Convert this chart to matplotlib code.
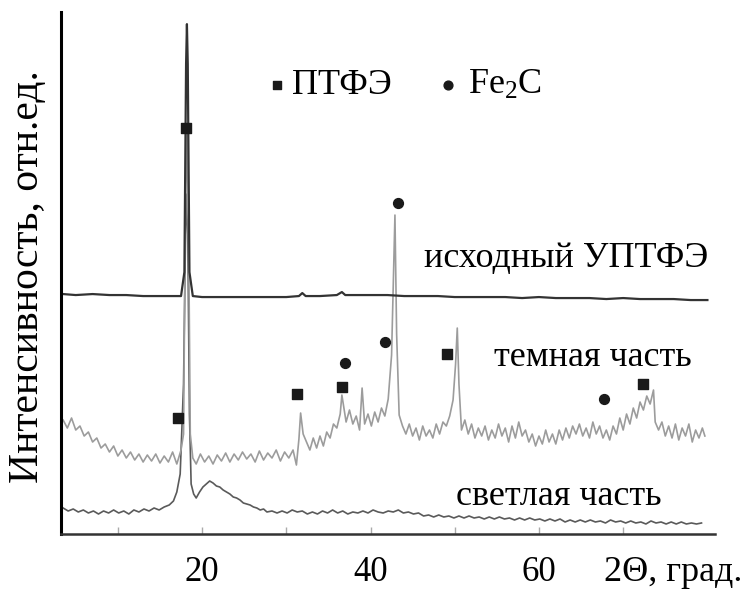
import matplotlib
matplotlib.use('Agg')
import matplotlib.pyplot as plt

plt.rcParams['font.family'] = ['Liberation Serif', 'DejaVu Serif']
plt.rcParams['mathtext.default'] = 'regular'

# --- data: 2Theta (deg) and intensity (arb. units) ---
x_initial = [3.5, 5, 7, 9, 11, 13, 15, 16.5, 17.5, 17.9, 18.1, 18.2, 18.3, 18.5, 18.9,
             20, 22, 24, 26, 28, 30, 31.5, 31.9, 32.3, 34, 36, 36.6, 37.0, 38, 40, 42,
             44, 46, 48, 50, 52, 54, 56, 58, 60, 62, 64, 66, 68, 70, 72, 74, 76, 78, 80]
y_initial = [240, 239, 240, 239, 239, 238, 238, 238, 238, 262, 470, 510, 470, 262, 238,
             237, 237, 237, 237, 237, 237, 238, 241, 238, 238, 239, 242, 239, 239, 239, 239,
             238, 238, 238, 237, 237, 237, 237, 236, 237, 236, 236, 236, 235, 236, 235, 235, 235, 234, 234]

x_dark = [3.5, 4.0, 4.5, 5.0, 5.5, 6.0, 6.5, 7.0, 7.5, 8.0, 8.5, 9.0, 9.5, 10.0, 10.5,
          11.0, 11.5, 12.0, 12.5, 13.0, 13.5, 14.0, 14.5, 15.0, 15.5, 16.0, 16.5, 17.0,
          17.5, 17.8, 18.0, 18.2, 18.4, 18.6, 18.9, 19.3, 19.8, 20.3, 20.8, 21.3, 21.8,
          22.3, 22.8, 23.3, 23.8, 24.3, 24.8, 25.3, 25.8, 26.3, 26.8, 27.3, 27.8, 28.3,
          28.8, 29.3, 29.8, 30.3, 30.8, 31.2, 31.5, 31.7, 32.0, 32.4, 32.8, 33.2, 33.6,
          34.0, 34.4, 34.8, 35.2, 35.6, 36.0, 36.4, 36.6, 37.1, 37.5, 37.9, 38.3, 38.7,
          39.0, 39.3, 39.7, 40.1, 40.5, 40.9, 41.3, 41.7, 42.1, 42.5, 42.9, 43.1, 43.4,
          43.8, 44.2, 44.6, 45.0, 45.4, 45.8, 46.2, 46.6, 47.0, 47.4, 47.8, 48.2, 48.6,
          49.0, 49.4, 49.8, 50.1, 50.3, 50.5, 50.8, 51.2, 51.6, 52.0, 52.4, 52.8, 53.2,
          53.6, 54.0, 54.4, 54.8, 55.2, 55.6, 56.0, 56.4, 56.8, 57.2, 57.6, 58.0, 58.4,
          58.8, 59.2, 59.6, 60.0, 60.4, 60.8, 61.2, 61.6, 62.0, 62.4, 62.8, 63.2, 63.6,
          64.0, 64.4, 64.8, 65.2, 65.6, 66.0, 66.4, 66.8, 67.2, 67.6, 68.0, 68.4, 68.8,
          69.2, 69.6, 70.0, 70.4, 70.8, 71.2, 71.6, 72.0, 72.4, 72.8, 73.2, 73.6, 73.8,
          74.2, 74.6, 75.0, 75.4, 75.8, 76.2, 76.6, 77.0, 77.4, 77.8, 78.2, 78.6, 79.0,
          79.4, 79.7]
y_dark = [114, 106, 116, 104, 108, 98, 102, 92, 96, 86, 90, 82, 88, 78, 84,
          76, 82, 74, 80, 72, 79, 73, 80, 71, 78, 72, 82, 70,
          84, 100, 300, 410, 300, 100, 76, 70, 80, 72, 78, 70, 79,
          73, 81, 72, 80, 74, 82, 75, 80, 72, 83, 74, 81, 76,
          84, 73, 82, 76, 84, 69, 95, 121, 100, 92, 84, 96, 86,
          98, 88, 102, 96, 110, 106, 120, 139, 112, 124, 110, 118, 104,
          146, 110, 120, 108, 122, 112, 126, 118, 135, 179, 319, 200, 119,
          108, 100, 110, 98, 106, 94, 108, 98, 104, 96, 110, 100, 112,
          108, 118, 134, 170, 206, 150, 104, 114, 100, 110, 96, 106, 98,
          108, 94, 104, 96, 110, 98, 106, 92, 108, 96, 112, 98, 104,
          92, 100, 88, 98, 90, 104, 92, 100, 90, 104, 94, 106, 96,
          108, 100, 110, 98, 106, 96, 112, 100, 108, 96, 104, 94, 108,
          100, 116, 104, 120, 110, 126, 116, 132, 124, 138, 130, 144, 112,
          104, 112, 98, 108, 96, 110, 94, 106, 98, 110, 92, 104, 96,
          106, 98]

x_light = [3.5, 4.1, 4.7, 5.3, 5.9, 6.5, 7.1, 7.7, 8.3, 8.9, 9.5, 10.1, 10.7, 11.3,
           11.9, 12.5, 13.1, 13.7, 14.3, 14.9, 15.5, 16.1, 16.6, 17.0, 17.4, 17.8, 18.1,
           18.3, 18.5, 18.7, 19.0, 19.3, 19.7, 20.1, 20.5, 20.9, 21.3, 21.7, 22.1, 22.5,
           22.9, 23.3, 23.7, 24.1, 24.5, 24.9, 25.3, 25.7, 26.1, 26.5, 26.9, 27.3, 27.7,
           28.3, 28.9, 29.5, 30.1, 30.7, 31.3, 31.9, 32.5, 33.1, 33.7, 34.3, 34.9, 35.5,
           36.1, 36.7, 37.3, 37.9, 38.5, 39.1, 39.7, 40.3, 40.9, 41.5, 42.1, 42.7, 43.3,
           43.9, 44.5, 45.1, 45.7, 46.3, 46.9, 47.5, 48.1, 48.7, 49.3, 49.9, 50.5, 51.1,
           51.7, 52.3, 52.9, 53.5, 54.1, 54.7, 55.3, 55.9, 56.5, 57.1, 57.7, 58.3, 58.9,
           59.5, 60.1, 60.7, 61.3, 61.9, 62.5, 63.1, 63.7, 64.3, 64.9, 65.5, 66.1, 66.7,
           67.3, 67.9, 68.5, 69.1, 69.7, 70.3, 70.9, 71.5, 72.1, 72.7, 73.3, 73.9, 74.5,
           75.1, 75.7, 76.3, 76.9, 77.5, 78.1, 78.7, 79.3]
y_light = [26, 23, 25, 22, 24, 21, 23, 20, 23, 21, 24, 21, 23, 20,
           24, 22, 25, 23, 26, 24, 27, 29, 33, 42, 60, 150, 340,
           300, 120, 50, 40, 36, 42, 47, 50, 53, 51, 48, 47, 44,
           42, 40, 37, 36, 34, 31, 30, 29, 27, 26, 24, 25, 22,
           23, 21, 23, 21, 24, 22, 23, 20, 22, 20, 23, 21, 24,
           21, 23, 20, 22, 21, 23, 21, 24, 22, 21, 23, 22, 24,
           21, 22, 20, 21, 18, 19, 17, 19, 17, 18, 16, 18, 16,
           18, 16, 17, 15, 17, 15, 17, 15, 16, 14, 16, 14, 16,
           14, 15, 13, 15, 13, 15, 12, 14, 12, 14, 12, 14, 12,
           13, 11, 14, 12, 13, 11, 13, 11, 12, 10, 13, 11, 12,
           10, 12, 10, 12, 10, 11, 10, 11]

# phase markers
ptfe_x = [18.1, 17.15, 31.3, 36.6, 49.1, 72.4]
ptfe_y = [406, 116, 140, 147, 180, 150]
fe2c_x = [37.0, 41.7, 43.3, 67.7]
fe2c_y = [171, 192, 331, 135]

curve_labels = ['исходный УПТФЭ', 'темная часть', 'светлая часть']

# --- figure ---
fig = plt.figure(figsize=(7.44, 5.89), dpi=100)
ax = fig.add_axes([0.082, 0.0934, 0.879, 0.886])

ax.plot(x_light, y_light, color='#5a5a5a', linewidth=1.2)
ax.plot(x_dark, y_dark, color='#9c9c9c', linewidth=1.2)
ax.plot(x_initial, y_initial, color='#333333', linewidth=1.6)

ax.scatter(ptfe_x, ptfe_y, marker='s', s=55, color='#1a1a1a', zorder=5)
ax.scatter(fe2c_x, fe2c_y, marker='o', s=50, color='#1a1a1a', zorder=5)

ax.set_xlim(3.25, 80.9)
ax.set_ylim(0, 522)

for side in ['top', 'right']:
    ax.spines[side].set_visible(False)
ax.spines['left'].set_linewidth(2.2)
ax.spines['bottom'].set_linewidth(1.8)
ax.spines['bottom'].set_color('#333333')

ax.set_yticks([])
ax.set_xticks([10, 20, 30, 40, 50, 60, 70])
ax.set_xticklabels(['', '20', '', '40', '', '60', ''], fontsize=25)
ax.tick_params(axis='x', direction='in', length=5, width=1, color='#aaaaaa', pad=16)

# legend made of markers + text
ax.scatter([28.9], [449], marker='s', s=40, color='#1a1a1a')
ax.text(30.7, 449, 'ПТФЭ', fontsize=26, va='center', ha='left')
ax.scatter([49.2], [449], marker='o', s=40, color='#1a1a1a')
ax.text(51.6, 449, r'Fe$_2$C', fontsize=26, va='center', ha='left')

# curve names
ax.text(80.1, 276, curve_labels[0], fontsize=26, va='center', ha='right')
ax.text(78.2, 177, curve_labels[1], fontsize=26, va='center', ha='right')
ax.text(74.6, 37, curve_labels[2], fontsize=26, va='center', ha='right')

fig.text(0.037, 0.531, 'Интенсивность, отн.ед.', fontsize=30, rotation=90,
         va='center', ha='center')
fig.text(0.998, 0.028, '2Θ, град.', fontsize=26, va='center', ha='right')

plt.savefig('out.png', dpi=100)
